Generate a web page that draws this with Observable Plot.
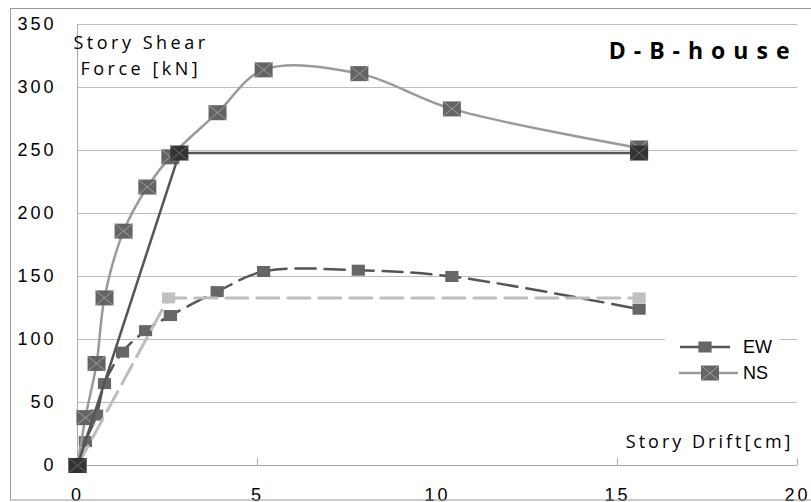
<!DOCTYPE html>
<html><head><meta charset="utf-8">
<script src="https://cdn.jsdelivr.net/npm/d3@7"></script>
<script src="https://cdn.jsdelivr.net/npm/@observablehq/plot@0.6"></script>
<style>
body{margin:0;background:#fff}
#chart svg{display:block;background:#fff}
g[aria-label="y-axis tick label"] text, g[aria-label="x-axis tick label"] text{letter-spacing:3px}
.ttl text{letter-spacing:3.5px}
.ttl2 text{letter-spacing:3px}
.big text{letter-spacing:8px}
</style></head><body><div id="chart"></div>
<script>
// NS (North-South) measured curve
const nsDrift = [0, 0.22, 0.53, 0.75, 1.28, 1.94, 2.58, 3.89, 5.17, 7.83, 10.4, 15.6];
const nsShear = [0, 38, 81, 133, 186, 221, 245, 280, 314, 311, 283, 252];
// EW (East-West) measured curve
const ewDrift = [0, 0.22, 0.53, 0.75, 1.25, 1.89, 2.58, 3.88, 5.17, 7.8, 10.4, 15.6];
const ewShear = [0, 19, 40, 65, 90, 107, 119, 138, 154, 155, 150, 124];
// bilinear idealisations
const nsBiDrift = [0, 2.83, 15.6];
const nsBiShear = [0, 248, 248];
const ewBiDrift = [0, 2.53, 15.6];
const ewBiShear = [0, 133, 133];
// axes
const xTicks = [0, 5, 10, 15, 20];
const xTickMarks = [5, 15, 20];
const yTicks = [0, 50, 100, 150, 200, 250, 300, 350];
const title = "D-B-house";
const yTitle1 = "Story Shear";
const yTitle2 = "Force [kN]";
const xTitle = "Story Drift[cm]";
const seriesNames = ["EW", "NS"];

const zip = (xs, ys) => xs.map((x, i) => ({x, y: ys[i]}));
const ns = zip(nsDrift, nsShear), ew = zip(ewDrift, ewShear);
const nsBi = zip(nsBiDrift, nsBiShear), ewBi = zip(ewBiDrift, ewBiShear);

const rectSym = {draw(ctx, size) {const r = Math.sqrt(size / Math.PI), w = r * 1.2; ctx.rect(-w, -r, 2 * w, 2 * r);}};
const crossSym = {draw(ctx, size) {const r = Math.sqrt(size / Math.PI), w = r * 1.2; ctx.moveTo(-w, -r); ctx.lineTo(w, r); ctx.moveTo(-w, r); ctx.lineTo(w, -r);}};

const plot = Plot.plot({
  width: 811, height: 502,
  marginLeft: 77, marginRight: 14, marginTop: 24, marginBottom: 37,
  style: {fontFamily: "'Liberation Sans', Arial, sans-serif", fontSize: "18px", color: "#000", background: "#fff"},
  x: {domain: [0, 20], label: null},
  y: {domain: [0, 350], label: null},
  marks: [
    Plot.ruleY(yTicks.filter(d => d > 0), {stroke: "#bdbdbd", strokeWidth: 1}),
    Plot.ruleY([0], {stroke: "#aaa", strokeWidth: 1}),
    Plot.ruleX([0], {stroke: "#aaa", strokeWidth: 1}),
    Plot.axisX({ticks: xTickMarks, tickSize: -7, text: null, stroke: "#aaa", label: null}),
    Plot.axisX({ticks: xTicks, tickSize: 0, tickPadding: 23, fill: "#000", label: null}),
    Plot.axisY({ticks: yTicks, tickSize: 0, tickPadding: 21, fill: "#000", label: null}),
    // EW measured
    Plot.line(ew, {x: "x", y: "y", stroke: "#555", strokeWidth: 2.5, strokeDasharray: "20,9", curve: "catmull-rom"}),
    Plot.dot(ew, {x: "x", y: "y", symbol: rectSym, r: 5.5, fill: "#666", stroke: "none"}),
    // NS measured
    Plot.line(ns, {x: "x", y: "y", stroke: "#9a9a9a", strokeWidth: 2.5, curve: "catmull-rom"}),
    Plot.dot(ns, {x: "x", y: "y", symbol: rectSym, r: 7.5, fill: "#646464", stroke: "none"}),
    Plot.dot(ns, {x: "x", y: "y", symbol: crossSym, r: 7.5, fill: "none", stroke: "#a0a0a0", strokeWidth: 1}),
    // EW bilinear
    Plot.line(ewBi, {x: "x", y: "y", stroke: "#bdbdbd", strokeWidth: 3, strokeDasharray: "22,9"}),
    Plot.dot(ewBi, {x: "x", y: "y", symbol: rectSym, r: 5.5, fill: "#c0c0c0", stroke: "none"}),
    // NS bilinear
    Plot.line(nsBi, {x: "x", y: "y", stroke: "#555", strokeWidth: 2.5}),
    Plot.dot(nsBi, {x: "x", y: "y", symbol: rectSym, r: 7.5, fill: "#333", stroke: "none"}),
    Plot.dot(nsBi, {x: "x", y: "y", symbol: crossSym, r: 7.5, fill: "none", stroke: "#6a6a6a", strokeWidth: 1}),
    // titles
    Plot.text([title], {text: d => d, frameAnchor: "top-right", textAnchor: "end", lineAnchor: "bottom", dx: 0, dy: 34, fontWeight: "bold", fontSize: 23, fontFamily: "'Open Sans', sans-serif", fill: "#000", className: "big"}),
    Plot.text([yTitle1], {text: d => d, frameAnchor: "top-left", textAnchor: "start", lineAnchor: "bottom", dx: -4, dy: 24, fontSize: 18, fontFamily: "'Open Sans', sans-serif", fill: "#000", className: "ttl"}),
    Plot.text([yTitle2], {text: d => d, frameAnchor: "top-left", textAnchor: "start", lineAnchor: "bottom", dx: 3, dy: 50, fontSize: 18, fontFamily: "'Open Sans', sans-serif", fill: "#000", className: "ttl"}),
    Plot.text([xTitle], {text: d => d, frameAnchor: "bottom-right", textAnchor: "end", lineAnchor: "bottom", dx: -4, dy: -18, fontSize: 18, fontFamily: "'Open Sans', sans-serif", fill: "#000", className: "ttl2"})
  ]
});

// chart border and legend (decoration)
const svg = d3.select(plot);
svg.append("rect").attr("x", 10.5).attr("y", 8.5).attr("width", 900).attr("height", 491.5)
  .attr("fill", "none").attr("stroke", "#999");
const lg = svg.append("g").attr("text-anchor", "start");
lg.append("rect").attr("x", 665).attr("y", 330).attr("width", 115).attr("height", 62).attr("fill", "#fff");
// EW entry
lg.append("line").attr("x1", 680).attr("x2", 730).attr("y1", 347).attr("y2", 347).attr("stroke", "#555").attr("stroke-width", 2.5);
lg.append("rect").attr("x", 705 - 6.6).attr("y", 347 - 5.5).attr("width", 13.2).attr("height", 11).attr("fill", "#666");
// NS entry
lg.append("line").attr("x1", 679).attr("x2", 738).attr("y1", 373).attr("y2", 373).attr("stroke", "#9a9a9a").attr("stroke-width", 2.5);
lg.append("rect").attr("x", 710 - 9).attr("y", 373 - 7.5).attr("width", 18).attr("height", 15).attr("fill", "#646464");
lg.append("path").attr("d", `M${701},${365.5}L${719},${380.5}M${701},${380.5}L${719},${365.5}`).attr("stroke", "#a0a0a0").attr("fill", "none");
lg.selectAll("text.l").data(seriesNames).join("text")
  .attr("x", 743).attr("y", (d, i) => 347 + i * 26).attr("dy", "0.35em")
  .attr("text-anchor", "start")
  .attr("font-size", 18).attr("fill", "#000").text(d => d);

document.getElementById("chart").appendChild(plot);
</script></body></html>
